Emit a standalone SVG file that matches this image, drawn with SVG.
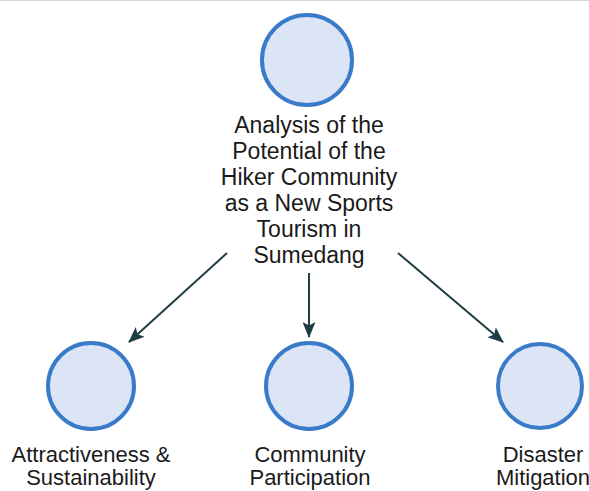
<svg xmlns="http://www.w3.org/2000/svg" width="589" height="491" viewBox="0 0 589 491">
<style>
.node circle{fill:#dbe5f6;stroke:#3a7bc9;stroke-width:4}
text{font-family:"Liberation Sans",Arial,sans-serif;fill:#1a1a1a;text-anchor:middle}
.t{font-size:23px}
.l{font-size:22px}
.conn line{stroke:#1f3d45;stroke-width:2;marker-end:url(#ah)}
</style>
<defs>
<marker id="ah" viewBox="0 0 16 13" refX="15" refY="6.5" markerWidth="16" markerHeight="13" markerUnits="userSpaceOnUse" orient="auto">
<path d="M0,0 L16,6.5 L0,13 L3.5,6.5 Z" fill="#1f3d45"/>
</marker>
</defs>
<rect x="0" y="0" width="589" height="491" fill="#ffffff"/>
<line x1="0" y1="0.5" x2="589" y2="0.5" stroke="#d8d8d8" stroke-width="1"/>
<g id="center" class="node">
<circle cx="307" cy="60" r="45"/>
<text class="t"><tspan x="309" y="133">Analysis of the</tspan><tspan x="309" y="159">Potential of the</tspan><tspan x="309" y="185">Hiker Community</tspan><tspan x="309" y="211">as a New Sports</tspan><tspan x="309" y="237">Tourism in</tspan><tspan x="309" y="263">Sumedang</tspan></text>
</g>
<g id="attractiveness" class="node">
<circle cx="91" cy="386" r="43"/>
<text class="l"><tspan x="91" y="462">Attractiveness &amp;</tspan><tspan x="91" y="485">Sustainability</tspan></text>
</g>
<g id="participation" class="node">
<circle cx="309" cy="386" r="43"/>
<text class="l"><tspan x="310" y="462">Community</tspan><tspan x="310" y="485">Participation</tspan></text>
</g>
<g id="disaster" class="node">
<circle cx="540" cy="386" r="42"/>
<text class="l"><tspan x="543" y="462">Disaster</tspan><tspan x="543" y="485">Mitigation</tspan></text>
</g>
<g id="connectors" class="conn">
<line x1="227" y1="253" x2="129" y2="342"/>
<line x1="309" y1="273" x2="309" y2="337"/>
<line x1="398" y1="253" x2="503" y2="342"/>
</g>
</svg>
